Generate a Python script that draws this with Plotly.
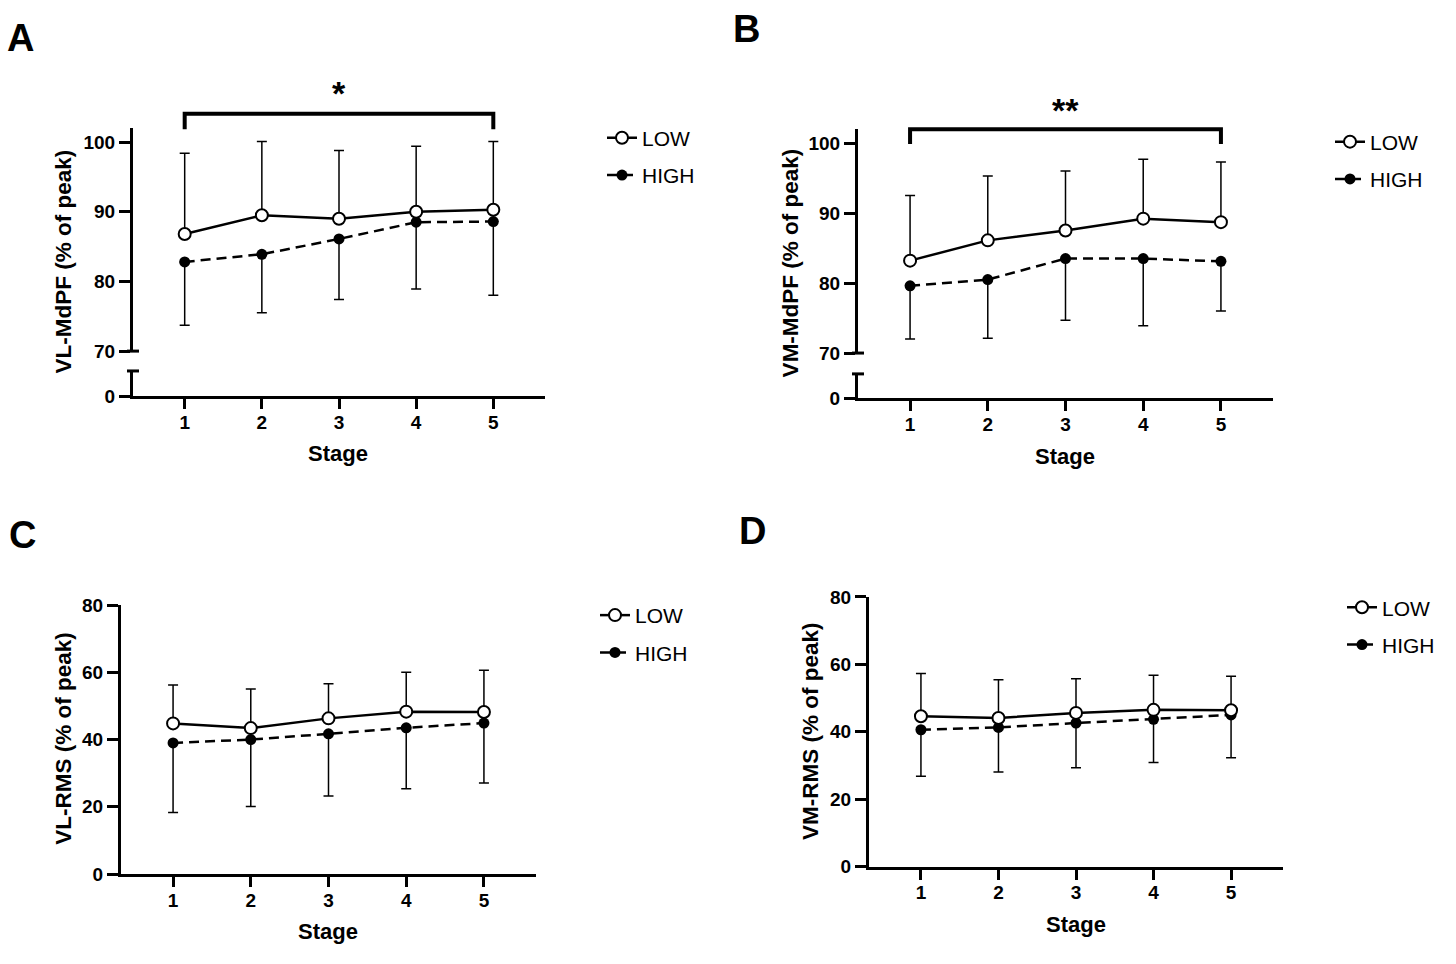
import plotly.graph_objects as go

W, H = 1456, 964
FONT = "Arial, 'Liberation Sans', sans-serif"

# ---------------- data ----------------
stages = [1, 2, 3, 4, 5]
stage_labels = ["1", "2", "3", "4", "5"]

vl_mdpf_low_mean = [86.8, 89.5, 89.0, 90.0, 90.3]
vl_mdpf_low_sd = [11.6, 10.6, 9.8, 9.4, 9.8]
vl_mdpf_high_mean = [82.8, 83.9, 86.1, 88.5, 88.6]
vl_mdpf_high_sd = [9.1, 8.4, 8.7, 9.6, 10.6]

vm_mdpf_low_mean = [83.2, 86.1, 87.5, 89.2, 88.7]
vm_mdpf_low_sd = [9.3, 9.2, 8.5, 8.5, 8.6]
vm_mdpf_high_mean = [79.6, 80.5, 83.5, 83.5, 83.1]
vm_mdpf_high_sd = [7.6, 8.4, 8.8, 9.6, 7.1]

vl_rms_low_mean = [44.8, 43.4, 46.3, 48.3, 48.2]
vl_rms_low_sd = [11.4, 11.6, 10.3, 11.7, 12.4]
vl_rms_high_mean = [39.0, 40.0, 41.7, 43.5, 44.9]
vl_rms_high_sd = [20.7, 19.9, 18.5, 18.1, 17.8]

vm_rms_low_mean = [44.6, 44.1, 45.6, 46.5, 46.4]
vm_rms_low_sd = [12.7, 11.3, 10.1, 10.3, 10.1]
vm_rms_high_mean = [40.6, 41.3, 42.6, 43.7, 45.0]
vm_rms_high_sd = [13.8, 13.2, 13.3, 12.8, 12.7]

group_names = ["LOW", "HIGH"]
mdpf_ticks_upper = [70, 80, 90, 100]
rms_ticks = [0, 20, 40, 60, 80]


def px_x(p):
    return p / W


def px_y(p):
    return 1 - p / H


fig = go.Figure()

TICKFONT = dict(family=FONT, size=19, color="black", weight="bold")


def axis(**kw):
    d = dict(showline=True, linecolor="black", linewidth=3,
             ticks="outside", ticklen=11, tickwidth=3, tickcolor="black",
             showgrid=False, zeroline=False, tickfont=TICKFONT)
    d.update(kw)
    return d


def add_series(xa, ya, legend, low_m, low_sd, high_m, high_sd):
    zeros = [0] * len(stages)
    fig.add_trace(go.Scatter(
        x=stages, y=high_m, name=group_names[1], mode="lines+markers",
        xaxis=xa, yaxis=ya, legend=legend, legendrank=2, legendgroup="h",
        line=dict(color="black", width=2.5, dash="10px,6px"),
        marker=dict(symbol="circle", size=11, color="black"),
        error_y=dict(type="data", symmetric=False, array=zeros, arrayminus=high_sd,
                     color="black", thickness=1.5, width=5),
    ))
    fig.add_trace(go.Scatter(
        x=stages, y=low_m, name=group_names[0], mode="lines+markers",
        xaxis=xa, yaxis=ya, legend=legend, legendrank=1, legendgroup="l",
        line=dict(color="black", width=2.5),
        marker=dict(symbol="circle", size=12, color="white",
                    line=dict(color="black", width=2)),
        error_y=dict(type="data", symmetric=False, array=low_sd, arrayminus=zeros,
                     color="black", thickness=1.5, width=5),
    ))


# empty traces so the lower (broken) axis segments form their own subplots
for xa, ya in [("x", "y"), ("x2", "y3")]:
    fig.add_trace(go.Scatter(x=[None], y=[None], xaxis=xa, yaxis=ya, mode="markers",
                             showlegend=False, hoverinfo="skip"))

add_series("x", "y2", "legend", vl_mdpf_low_mean, vl_mdpf_low_sd,
           vl_mdpf_high_mean, vl_mdpf_high_sd)
add_series("x2", "y4", "legend2", vm_mdpf_low_mean, vm_mdpf_low_sd,
           vm_mdpf_high_mean, vm_mdpf_high_sd)
add_series("x3", "y5", "legend3", vl_rms_low_mean, vl_rms_low_sd,
           vl_rms_high_mean, vl_rms_high_sd)
add_series("x4", "y6", "legend4", vm_rms_low_mean, vm_rms_low_sd,
           vm_rms_high_mean, vm_rms_high_sd)

xrange_ = [0.33, 5.67]
XT = dict(tickvals=stages, ticktext=stage_labels, ticklen=10, ticklabelstandoff=-3)

layout = dict(
    width=W, height=H, margin=dict(l=0, r=0, t=0, b=0),
    plot_bgcolor="white", paper_bgcolor="white",
    font=dict(family=FONT, color="black"),
    # Panel A
    xaxis=axis(domain=[px_x(133), px_x(545)], range=xrange_, anchor="y", **XT),
    yaxis=axis(domain=[px_y(395), px_y(369)], range=[0, 3], anchor="x",
               tickvals=[0], ticktext=["0"]),
    yaxis2=axis(domain=[px_y(348.7), px_y(120.8)], range=[70, 102], anchor="x",
                tickvals=mdpf_ticks_upper),
    # Panel B
    xaxis2=axis(domain=[px_x(858), px_x(1273)], range=xrange_, anchor="y3", **XT),
    yaxis3=axis(domain=[px_y(397), px_y(372)], range=[0, 3], anchor="x2",
                tickvals=[0], ticktext=["0"]),
    yaxis4=axis(domain=[px_y(350.7), px_y(121.7)], range=[70, 102], anchor="x2",
                tickvals=mdpf_ticks_upper),
    # Panel C
    xaxis3=axis(domain=[px_x(121), px_x(536)], range=xrange_, anchor="y5", **XT),
    yaxis5=axis(domain=[px_y(883.3), px_y(608.3)], range=[0, 80], anchor="x3",
                tickvals=rms_ticks),
    # Panel D
    xaxis4=axis(domain=[px_x(869), px_x(1283)], range=xrange_, anchor="y6", **XT),
    yaxis6=axis(domain=[px_y(875.7), px_y(600)], range=[0, 80], anchor="x4",
                tickvals=rms_ticks),
)

LEG = dict(xanchor="left", yanchor="top", font=dict(family=FONT, size=21, color="black"),
           bgcolor="rgba(0,0,0,0)", tracegroupgap=7, itemwidth=30, borderwidth=0)
layout["legend"] = dict(x=px_x(602), y=px_y(110), **LEG)
layout["legend2"] = dict(x=px_x(1330), y=px_y(114), **LEG)
layout["legend3"] = dict(x=px_x(595), y=px_y(598), **LEG)
layout["legend4"] = dict(x=px_x(1342), y=px_y(590), **LEG)

fig.update_layout(**layout)

# axis-break caps
for xr, yr_up, yr_low in [("x", "y2", "y"), ("x2", "y4", "y3")]:
    for yr, yv in [(yr_up, 0), (yr_low, 1)]:
        fig.add_shape(type="line", xref=f"{xr} domain", yref=f"{yr} domain",
                      xsizemode="pixel", xanchor=0, x0=-6, x1=6, y0=yv, y1=yv,
                      line=dict(color="black", width=3))

# significance brackets
fig.add_shape(type="path", xref="x", yref="paper",
              path=f"M {stages[0]},{px_y(122)} L {stages[0]},{px_y(106)} L {stages[-1]},{px_y(106)} L {stages[-1]},{px_y(122)}",
              line=dict(color="black", width=4))
fig.add_shape(type="path", xref="x2", yref="paper",
              path=f"M {stages[0]},{px_y(137)} L {stages[0]},{px_y(122)} L {stages[-1]},{px_y(122)} L {stages[-1]},{px_y(137)}",
              line=dict(color="black", width=4))

ann = []
ann.append(dict(x=stages[2], xref="x", y=px_y(85), yref="paper", text="<b>*</b>",
                showarrow=False, yanchor="middle", font=dict(size=34, family=FONT)))
ann.append(dict(x=stages[2], xref="x2", y=px_y(102), yref="paper", text="<b>**</b>",
                showarrow=False, yanchor="middle", font=dict(size=34, family=FONT)))

# axis titles
for xc, yc, t in [(338, 453, "Stage"), (1065, 456, "Stage"), (328, 942, "Stage"), (1076, 935, "Stage")]:
    ann.append(dict(x=px_x(xc), y=px_y(yc), xref="paper", yref="paper", text=f"<b>{t}</b>",
                    showarrow=False, xanchor="center", yanchor="middle",
                    font=dict(size=22, family=FONT)))
for xc, yc, t in [(63, 257, "VL-MdPF (% of peak)"), (790, 258, "VM-MdPF (% of peak)"),
                  (64, 745, "VL-RMS (% of peak)"), (811, 737, "VM-RMS (% of peak)")]:
    ann.append(dict(x=px_x(xc), y=px_y(yc), xref="paper", yref="paper", text=f"<b>{t}</b>",
                    showarrow=False, xanchor="center", yanchor="middle", textangle=-90,
                    font=dict(size=22.5, family=FONT)))
# panel letters
for xc, yc, t in [(20, 29, "A"), (747, 19, "B"), (22, 537, "C"), (752, 533, "D")]:
    ann.append(dict(x=px_x(xc), y=px_y(yc), xref="paper", yref="paper", text=f"<b>{t}</b>",
                    showarrow=False, xanchor="center", yanchor="middle",
                    font=dict(size=38, family=FONT)))
fig.update_layout(annotations=ann)

fig.write_html("out.html")
